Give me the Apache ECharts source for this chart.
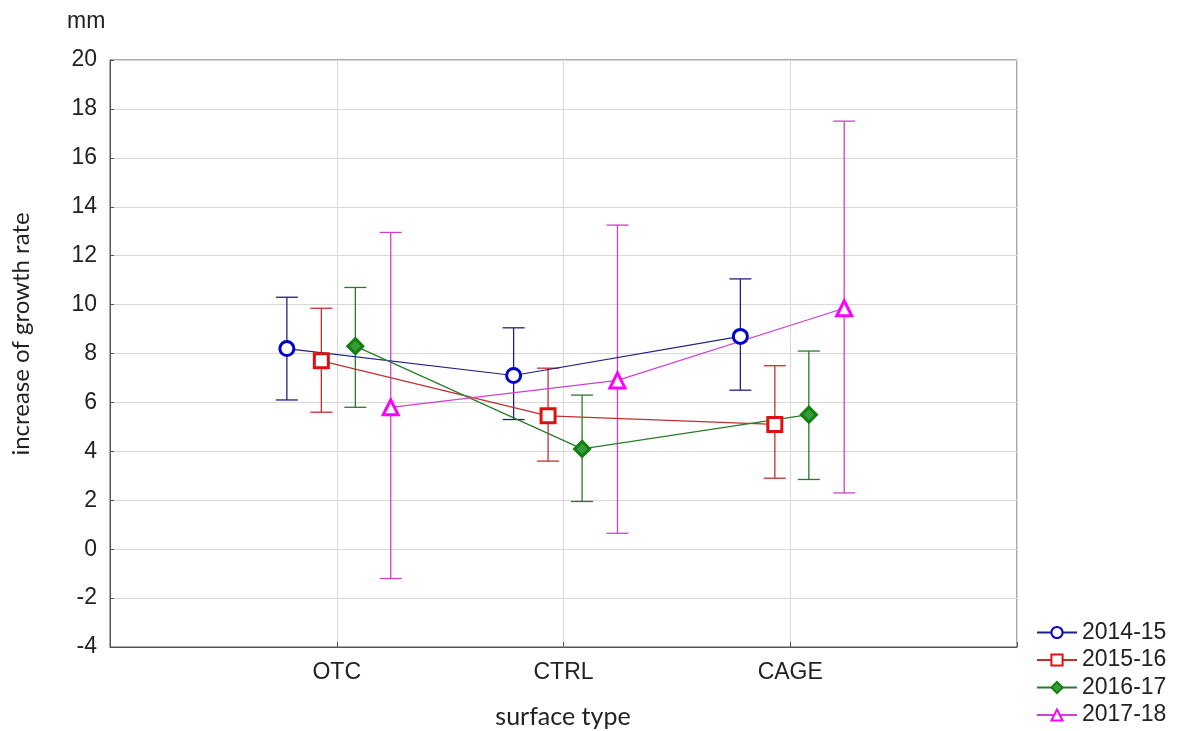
<!DOCTYPE html>
<html><head><meta charset="utf-8">
<script src="https://cdn.jsdelivr.net/npm/echarts@6/dist/echarts.min.js"></script>
<style>html,body{margin:0;padding:0;background:#fff}#c{width:1184px;height:731px}</style>
</head><body><div id="c"></div>
<script>
const categories = ['OTC', 'CTRL', 'CAGE'];
const seriesNames = ['2014-15', '2015-16', '2016-17', '2017-18'];
const yTicks = [-4, 20, 2];
// per series: means, lower and upper error limits, in category order
const mean2014 = [8.2, 7.1, 8.7];
const low2014 = [6.1, 5.3, 6.5];
const up2014 = [10.3, 9.05, 11.05];
const mean2015 = [7.7, 5.45, 5.1];
const low2015 = [5.6, 3.6, 2.9];
const up2015 = [9.85, 7.4, 7.5];
const mean2016 = [8.3, 4.1, 5.5];
const low2016 = [5.8, 1.95, 2.85];
const up2016 = [10.7, 6.3, 8.1];
const mean2017 = [5.8, 6.9, 9.85];
const low2017 = [-1.2, 0.65, 2.3];
const up2017 = [12.95, 13.25, 17.5];

const means = [mean2014, mean2015, mean2016, mean2017];
const lows = [low2014, low2015, low2016, low2017];
const ups = [up2014, up2015, up2016, up2017];
const offsets = [-0.22, -0.068, 0.082, 0.238];
const markerColors = ['#0000d0', '#e01010', '#108010', '#ff00ff'];
const markerFills = ['#fff', '#fff', '#3a9a3a', '#fff'];
const lineColors = ['#202080', '#c03030', '#2a7a2a', '#d040d0'];
const symbols = ['circle', 'rect', 'diamond', 'triangle'];
const symbolSizes = [14, 14, 15, 15];

const chart = echarts.init(document.getElementById('c'));
const series = [];
seriesNames.forEach((name, s) => {
  series.push({
    type: 'line', name: name, z: 3,
    data: categories.map((c, i) => [i + 1 + offsets[s], means[s][i]]),
    symbol: symbols[s], symbolSize: symbolSizes[s], showAllSymbol: true,
    color: markerColors[s],
    itemStyle: { color: markerFills[s], borderColor: markerColors[s], borderWidth: 3 },
    lineStyle: { color: lineColors[s], width: 1.2 },
    emphasis: { disabled: true }
  });
});
seriesNames.forEach((name, s) => {
  const errData = categories.map((c, i) => [i + 1 + offsets[s], lows[s][i], ups[s][i]]);
  series.push({
    type: 'custom', name: name + ' error', z: 2, silent: true,
    data: errData,
    renderItem: function (params, api) {
      const x = api.value(0);
      const lo = api.coord([x, api.value(1)]);
      const hi = api.coord([x, api.value(2)]);
      const hw = 11;
      const st = { stroke: lineColors[s], lineWidth: 1.3 };
      return { type: 'group', children: [
        { type: 'line', shape: { x1: lo[0], y1: lo[1], x2: hi[0], y2: hi[1] }, style: st },
        { type: 'line', shape: { x1: lo[0] - hw, y1: lo[1], x2: lo[0] + hw, y2: lo[1] }, style: st },
        { type: 'line', shape: { x1: hi[0] - hw, y1: hi[1], x2: hi[0] + hw, y2: hi[1] }, style: st }
      ]};
    },
    encode: { x: 0, y: [1, 2] }
  });
});

chart.setOption({
  animation: false,
  grid: { left: 110, right: 167, top: 60, bottom: 84, show: true, borderColor: '#555', borderWidth: 1, backgroundColor: 'transparent' },
  xAxis: {
    type: 'value', min: 0, max: 4, interval: 1,
    axisLine: { show: true, onZero: false, lineStyle: { color: '#555' } },
    axisTick: { show: true, inside: true, length: 5, lineStyle: { color: '#555' } },
    axisLabel: { formatter: v => categories[v - 1] || '', color: '#222', fontSize: 23, fontFamily: 'Liberation Sans', margin: 14 },
    splitLine: { show: true, lineStyle: { color: '#d8d8d8' } }
  },
  yAxis: {
    type: 'value', min: yTicks[0], max: yTicks[1], interval: yTicks[2],
    axisLine: { show: true, lineStyle: { color: '#555' } },
    axisTick: { show: true, inside: true, length: 4, lineStyle: { color: '#555' } },
    axisLabel: { color: '#222', fontSize: 23, fontFamily: 'Liberation Sans', margin: 13 },
    splitLine: { show: true, lineStyle: { color: '#d8d8d8' } }
  },
  legend: {
    orient: 'vertical', left: 1036, top: 621, padding: 0, itemGap: 4.5, itemWidth: 40, itemHeight: 14,
    data: seriesNames,
    textStyle: { fontSize: 23, fontFamily: 'Liberation Sans', color: '#222', lineHeight: 23 }
  },
  graphic: [
    { type: 'text', left: 67, top: 10, style: { text: 'mm', fontSize: 23, fontFamily: 'Liberation Sans', fill: '#222' } },
    { type: 'text', x: 21, y: 334, rotation: Math.PI / 2, style: { text: 'increase of growth rate', fontSize: 24, fontFamily: 'Lato', fill: '#222', align: 'center', verticalAlign: 'middle' } },
    { type: 'text', x: 563, y: 717, style: { text: 'surface type', fontSize: 25, fontFamily: 'Lato', fill: '#222', align: 'center', verticalAlign: 'middle' } }
  ],
  series: series
});
</script></body></html>
